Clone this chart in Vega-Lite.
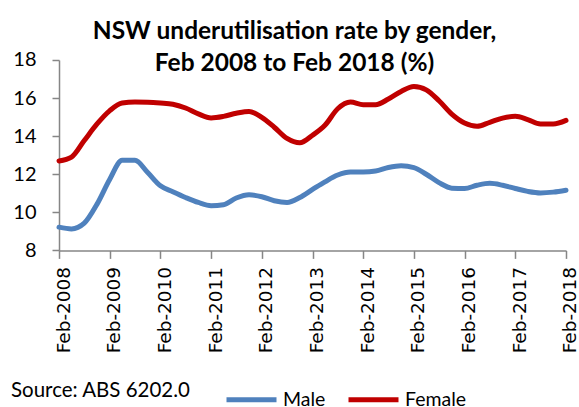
{
  "$schema": "https://vega.github.io/schema/vega-lite/v6.json",
  "width": 507,
  "height": 190.4,
  "autosize": "none",
  "padding": {"left": 59, "top": 60, "right": 13, "bottom": 157},
  "background": "white",
  "config": {
    "view": {"stroke": null},
    "axisX": {"labelFont": "DejaVu Sans", "labelFontSize": 18.5}
  },
  "title": {
    "text": ["NSW underutilisation rate by gender,", "Feb 2008 to Feb 2018 (%)"],
    "font": "Lato",
    "fontSize": 24.5,
    "fontWeight": "bold",
    "lineHeight": 32,
    "color": "#000000",
    "anchor": "middle",
    "dx": -18,
    "offset": -27
  },
  "datasets": {
    "rates": [
      {"date": "2008-02-01", "gender": "Male", "rate": 9.22},
      {"date": "2008-05-01", "gender": "Male", "rate": 9.13},
      {"date": "2008-08-01", "gender": "Male", "rate": 9.43},
      {"date": "2008-11-01", "gender": "Male", "rate": 10.43},
      {"date": "2009-02-01", "gender": "Male", "rate": 11.74},
      {"date": "2009-05-01", "gender": "Male", "rate": 12.73},
      {"date": "2009-08-01", "gender": "Male", "rate": 12.73},
      {"date": "2009-11-01", "gender": "Male", "rate": 12.09},
      {"date": "2010-02-01", "gender": "Male", "rate": 11.39},
      {"date": "2010-05-01", "gender": "Male", "rate": 11.08},
      {"date": "2010-08-01", "gender": "Male", "rate": 10.78},
      {"date": "2010-11-01", "gender": "Male", "rate": 10.52},
      {"date": "2011-02-01", "gender": "Male", "rate": 10.35},
      {"date": "2011-05-01", "gender": "Male", "rate": 10.4},
      {"date": "2011-08-01", "gender": "Male", "rate": 10.75},
      {"date": "2011-11-01", "gender": "Male", "rate": 10.92},
      {"date": "2012-02-01", "gender": "Male", "rate": 10.82},
      {"date": "2012-05-01", "gender": "Male", "rate": 10.61},
      {"date": "2012-08-01", "gender": "Male", "rate": 10.52},
      {"date": "2012-11-01", "gender": "Male", "rate": 10.78},
      {"date": "2013-02-01", "gender": "Male", "rate": 11.2},
      {"date": "2013-05-01", "gender": "Male", "rate": 11.6},
      {"date": "2013-08-01", "gender": "Male", "rate": 11.96},
      {"date": "2013-11-01", "gender": "Male", "rate": 12.12},
      {"date": "2014-02-01", "gender": "Male", "rate": 12.12},
      {"date": "2014-05-01", "gender": "Male", "rate": 12.17},
      {"date": "2014-08-01", "gender": "Male", "rate": 12.35},
      {"date": "2014-11-01", "gender": "Male", "rate": 12.44},
      {"date": "2015-02-01", "gender": "Male", "rate": 12.35},
      {"date": "2015-05-01", "gender": "Male", "rate": 12.0},
      {"date": "2015-08-01", "gender": "Male", "rate": 11.56},
      {"date": "2015-11-01", "gender": "Male", "rate": 11.27},
      {"date": "2016-02-01", "gender": "Male", "rate": 11.25},
      {"date": "2016-05-01", "gender": "Male", "rate": 11.42},
      {"date": "2016-08-01", "gender": "Male", "rate": 11.52},
      {"date": "2016-11-01", "gender": "Male", "rate": 11.42},
      {"date": "2017-02-01", "gender": "Male", "rate": 11.25},
      {"date": "2017-05-01", "gender": "Male", "rate": 11.1},
      {"date": "2017-08-01", "gender": "Male", "rate": 11.02},
      {"date": "2017-11-01", "gender": "Male", "rate": 11.06},
      {"date": "2018-02-01", "gender": "Male", "rate": 11.16},
      {"date": "2008-02-01", "gender": "Female", "rate": 12.7},
      {"date": "2008-05-01", "gender": "Female", "rate": 12.9},
      {"date": "2008-08-01", "gender": "Female", "rate": 13.77},
      {"date": "2008-11-01", "gender": "Female", "rate": 14.64},
      {"date": "2009-02-01", "gender": "Female", "rate": 15.34},
      {"date": "2009-05-01", "gender": "Female", "rate": 15.74},
      {"date": "2009-08-01", "gender": "Female", "rate": 15.79},
      {"date": "2009-11-01", "gender": "Female", "rate": 15.78},
      {"date": "2010-02-01", "gender": "Female", "rate": 15.74},
      {"date": "2010-05-01", "gender": "Female", "rate": 15.68},
      {"date": "2010-08-01", "gender": "Female", "rate": 15.48},
      {"date": "2010-11-01", "gender": "Female", "rate": 15.17},
      {"date": "2011-02-01", "gender": "Female", "rate": 14.96},
      {"date": "2011-05-01", "gender": "Female", "rate": 15.04},
      {"date": "2011-08-01", "gender": "Female", "rate": 15.2},
      {"date": "2011-11-01", "gender": "Female", "rate": 15.3},
      {"date": "2012-02-01", "gender": "Female", "rate": 14.99},
      {"date": "2012-05-01", "gender": "Female", "rate": 14.47},
      {"date": "2012-08-01", "gender": "Female", "rate": 13.88},
      {"date": "2012-11-01", "gender": "Female", "rate": 13.65},
      {"date": "2013-02-01", "gender": "Female", "rate": 14.05},
      {"date": "2013-05-01", "gender": "Female", "rate": 14.57},
      {"date": "2013-08-01", "gender": "Female", "rate": 15.44},
      {"date": "2013-11-01", "gender": "Female", "rate": 15.79},
      {"date": "2014-02-01", "gender": "Female", "rate": 15.65},
      {"date": "2014-05-01", "gender": "Female", "rate": 15.65},
      {"date": "2014-08-01", "gender": "Female", "rate": 15.95},
      {"date": "2014-11-01", "gender": "Female", "rate": 16.35},
      {"date": "2015-02-01", "gender": "Female", "rate": 16.61},
      {"date": "2015-05-01", "gender": "Female", "rate": 16.43},
      {"date": "2015-08-01", "gender": "Female", "rate": 15.86},
      {"date": "2015-11-01", "gender": "Female", "rate": 15.16},
      {"date": "2016-02-01", "gender": "Female", "rate": 14.69},
      {"date": "2016-05-01", "gender": "Female", "rate": 14.52},
      {"date": "2016-08-01", "gender": "Female", "rate": 14.73},
      {"date": "2016-11-01", "gender": "Female", "rate": 14.95},
      {"date": "2017-02-01", "gender": "Female", "rate": 15.04},
      {"date": "2017-05-01", "gender": "Female", "rate": 14.87},
      {"date": "2017-08-01", "gender": "Female", "rate": 14.64},
      {"date": "2017-11-01", "gender": "Female", "rate": 14.64},
      {"date": "2018-02-01", "gender": "Female", "rate": 14.83}
    ]
  },
  "data": {"name": "rates"},
  "mark": {"type": "line", "strokeWidth": 5, "interpolate": "monotone", "strokeCap": "round"},
  "encoding": {
    "x": {
      "field": "date",
      "type": "temporal",
      "scale": {"type": "utc", "nice": false},
      "axis": {
        "title": null,
        "values": [
          {"year": 2008, "month": 2, "date": 1, "utc": true},
          {"year": 2009, "month": 2, "date": 1, "utc": true},
          {"year": 2010, "month": 2, "date": 1, "utc": true},
          {"year": 2011, "month": 2, "date": 1, "utc": true},
          {"year": 2012, "month": 2, "date": 1, "utc": true},
          {"year": 2013, "month": 2, "date": 1, "utc": true},
          {"year": 2014, "month": 2, "date": 1, "utc": true},
          {"year": 2015, "month": 2, "date": 1, "utc": true},
          {"year": 2016, "month": 2, "date": 1, "utc": true},
          {"year": 2017, "month": 2, "date": 1, "utc": true},
          {"year": 2018, "month": 2, "date": 1, "utc": true}
        ],
        "format": "%b-%Y",
        "labelAngle": -90,
        "labelAlign": "right",
        "labelBaseline": "middle",
        "labelOffset": 4,
        "labelPadding": 8,
        "labelFont": "DejaVu Sans",
        "labelFontSize": 18.5,
        "labelLimit": 200,
        "labelColor": "#000000",
        "labelOverlap": false,
        "labelFlush": false,
        "grid": false,
        "domainColor": "#868686",
        "domainWidth": 1.5,
        "tickColor": "#868686",
        "tickWidth": 1.5,
        "tickSize": 8
      }
    },
    "y": {
      "field": "rate",
      "type": "quantitative",
      "scale": {"domain": [8, 18], "nice": false, "zero": false},
      "axis": {
        "title": null,
        "values": [8, 10, 12, 14, 16, 18],
        "labelFont": "Lato",
        "labelFontSize": 20,
        "labelColor": "#000000",
        "labelPadding": 16,
        "grid": false,
        "domainColor": "#868686",
        "domainWidth": 1.5,
        "tickColor": "#868686",
        "tickWidth": 1.5,
        "tickSize": 7
      }
    },
    "color": {
      "field": "gender",
      "type": "nominal",
      "scale": {"domain": ["Male", "Female"], "range": ["#4F81BD", "#C00000"]},
      "legend": {
        "title": "Source: ABS 6202.0",
        "titleOrient": "left",
        "titleAnchor": "middle",
        "titleFont": "Lato",
        "titleFontSize": 20.5,
        "titleFontWeight": "normal",
        "titleColor": "#000000",
        "titlePadding": 33,
        "titleBaseline": "middle",
        "orient": "none",
        "legendX": -48,
        "legendY": 312,
        "direction": "horizontal",
        "symbolType": "stroke",
        "symbolSize": 2500,
        "symbolStrokeWidth": 5,
        "labelFont": "Lato",
        "labelFontSize": 19.5,
        "labelColor": "#000000",
        "labelOffset": 4,
        "columnPadding": 12
      }
    }
  }
}
